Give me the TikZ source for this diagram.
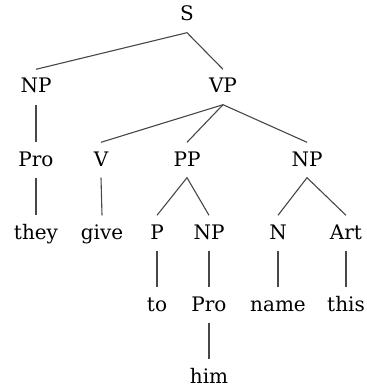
\documentclass[tikz,border=0pt]{standalone}
\usepackage{fontspec}
\setmainfont{DejaVu Serif}
\begin{document}
\begin{tikzpicture}[x=1pt,y=-1pt,
  lab/.style={inner xsep=0pt,inner ysep=9.5pt,text height=14pt,text depth=2pt,font=\fontsize{20}{24}\selectfont},
  edge/.style={draw=black!72,line width=1.1pt}]
\useasboundingbox (0,0) rectangle (366,390);
\node[lab] (S) at (187,15) {S};
\node[lab] (NP1) at (36,87) {NP};
\node[lab] (VP) at (223,87) {VP};
\node[lab] (Pro1) at (36,160) {Pro};
\node[lab] (V) at (101,160) {V};
\node[lab] (PP) at (187,160) {PP};
\node[lab] (NP2) at (307,160) {NP};
\node[lab] (they) at (36,233) {they};
\node[lab] (give) at (102,233) {give};
\node[lab] (P) at (157,233) {P};
\node[lab] (NP3) at (209,233) {NP};
\node[lab] (N) at (278,233) {N};
\node[lab] (Art) at (346,233) {Art};
\node[lab] (to) at (157,305) {to};
\node[lab] (Pro2) at (209,305) {Pro};
\node[lab] (name) at (278,305) {name};
\node[lab] (this) at (346,305) {this};
\node[lab] (him) at (209,377) {him};
\draw[edge] (NP1.north) -- (S.south) -- (VP.north);
\draw[edge] (NP1.south) -- (Pro1.north);
\draw[edge] (Pro1.south) -- (they.north);
\draw[edge] (VP.south) -- (V.north);
\draw[edge] (VP.south) -- (PP.north);
\draw[edge] (VP.south) -- (NP2.north);
\draw[edge] (V.south) -- (give.north);
\draw[edge] (P.north) -- (PP.south) -- (NP3.north);
\draw[edge] (N.north) -- (NP2.south) -- (Art.north);
\draw[edge] (P.south) -- (to.north);
\draw[edge] (NP3.south) -- (Pro2.north);
\draw[edge] (N.south) -- (name.north);
\draw[edge] (Art.south) -- (this.north);
\draw[edge] (Pro2.south) -- (him.north);
\end{tikzpicture}
\end{document}
